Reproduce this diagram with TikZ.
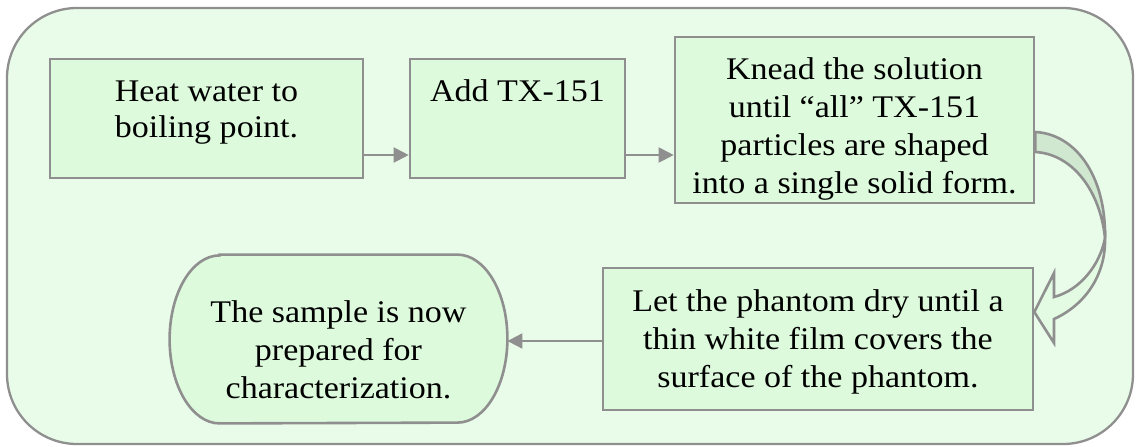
\documentclass[tikz,border=0pt]{standalone}
\usepackage{fontspec}
\setmainfont{Liberation Serif}[FakeStretch=1.08]
\usetikzlibrary{arrows.meta}
\definecolor{edge}{RGB}{143,143,143}
\definecolor{bgfill}{RGB}{233,252,233}
\definecolor{boxfill}{RGB}{221,250,221}
\definecolor{darkband}{RGB}{207,232,207}
\definecolor{lightband}{RGB}{226,251,226}
\begin{document}
\begin{tikzpicture}[x=0.5pt,y=-0.5pt,
  stepbox/.style={draw=edge,line width=1.3pt,fill=boxfill,rectangle,inner sep=0pt},
  txt/.style={align=center,inner sep=0pt,font=\fontsize{15.75pt}{19pt}\selectfont},
  txtb/.style={align=center,inner sep=0pt,font=\fontsize{15.75pt}{18pt}\selectfont},
  arr/.style={draw=edge,line width=1pt,-{Triangle[length=7.5pt,width=7.5pt]}},
  band/.style={draw=edge,line width=1.3pt,line join=miter}]
\useasboundingbox (0,0) rectangle (1136,446);
\draw[draw=edge,line width=1.15pt,fill=bgfill,rounded corners=35pt] (7,8) rectangle (1133,444);
% boxes
\node[stepbox,minimum width=156.5pt,minimum height=59.5pt] (b1) at (206.5,118.5) {};
\node[stepbox,minimum width=107.5pt,minimum height=59.5pt] (b2) at (517.5,118.5) {};
\node[stepbox,minimum width=179.5pt,minimum height=83pt] (b3) at (854.5,120) {};
\node[stepbox,minimum width=215pt,minimum height=71pt] (b4) at (818,339) {};
\node[inner sep=0pt,minimum width=168.5pt,minimum height=84pt] (b5) at (338.5,339) {};
\path[draw=edge,line width=1.3pt,fill=boxfill] ([xshift=25pt]b5.north west) -- ([xshift=-25pt]b5.north east)
  arc[start angle=90,end angle=-90,x radius=25pt,y radius=42pt] -- ([xshift=25pt]b5.south west)
  arc[start angle=270,end angle=90,x radius=25pt,y radius=42pt] -- cycle;
% texts (anchor base = baseline of the last line)
\node[txtb,anchor=base] (t1) at (206.5,137) {Heat water to\\boiling point.};
\node[txt,anchor=base] (t2) at (517.5,101) {Add TX-151};
\node[txt,anchor=base] (t3) at (854.5,193) {Knead the solution\\until “all” TX-151\\particles are shaped\\into a single solid form.};
\node[txt,anchor=base] (t4) at (818,387) {Let the phantom dry until a\\thin white film covers the\\surface of the phantom.};
\node[txt,anchor=base] (t5) at (338.5,398) {The sample is now\\prepared for\\characterization.};
% straight connectors
\draw[arr] ([yshift=-18.25pt]b1.east) -- ([yshift=-18.25pt]b1.east -| b2.west);
\draw[arr] ([yshift=-17.5pt]b3.west -| b2.east) -- ([yshift=-17.5pt]b3.west);
\draw[arr] ([yshift=-1pt]b4.west) -- ([yshift=-1pt]b4.west -| b5.east);
% curved block arrow from b3 to b4
\coordinate (ca) at ([yshift=-6pt]b3.east);
\coordinate (cb) at ([yshift=-16pt]b3.east);
\coordinate (tip) at ([yshift=13.5pt]b4.east);
\coordinate (cx) at (1105,238);
\path[band,fill=lightband] (cx) .. controls (1106,275) and (1085,305) .. (1054,319) -- (1054,343) -- (tip) -- (1054,273) -- (1054,297) .. controls (1080,290) and (1100,265) .. (cx) -- cycle;
\path[band,fill=darkband] (ca) .. controls (1075,134) and (1106,175) .. (cx) .. controls (1100,190) and (1072,154) .. (cb) -- cycle;
\end{tikzpicture}
\end{document}
